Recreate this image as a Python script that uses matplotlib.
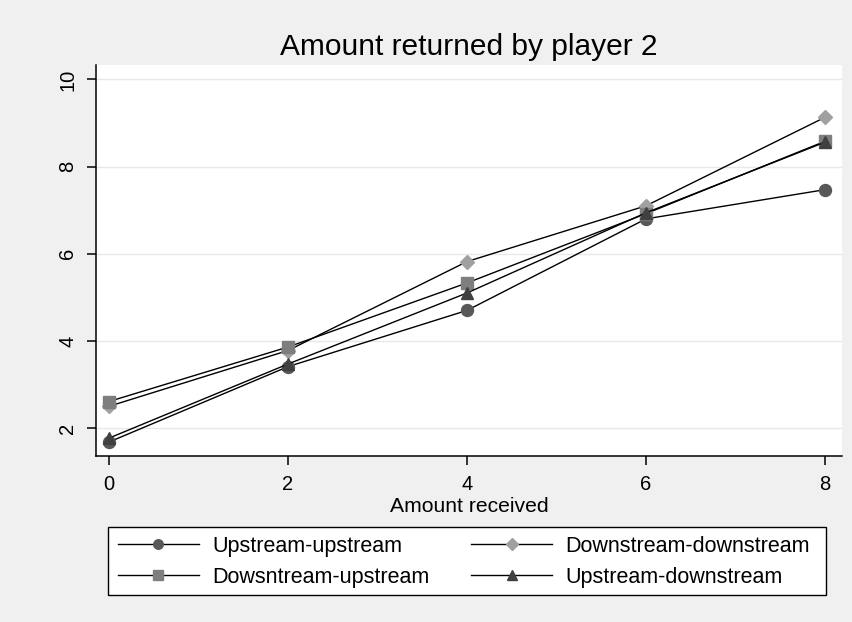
import numpy as np
import matplotlib
matplotlib.use('Agg')
import matplotlib.pyplot as plt
from matplotlib.patches import Rectangle

plt.rcParams['font.family'] = ['Liberation Sans', 'DejaVu Sans']

# Data
received = [0, 2, 4, 6, 8]
up_up = [1.68, 3.41, 4.70, 6.80, 7.47]
down_down = [2.50, 3.78, 5.82, 7.10, 9.13]
down_up = [2.61, 3.86, 5.33, 6.92, 8.58]
up_down = [1.77, 3.47, 5.10, 6.94, 8.56]

labels = ['Upstream-upstream', 'Downstream-downstream',
          'Dowsntream-upstream', 'Upstream-downstream']

W, H = 853, 622
bg = '#f0f0f0'
fig = plt.figure(figsize=(W/100, H/100), dpi=100, facecolor=bg)
ax = fig.add_axes([96/W, 1-456/H, 746/W, 391/H])
ax.set_facecolor('white')

l1, = ax.plot(received, up_up, color='black', lw=1.0, marker='o', ms=8.6,
              mfc='#585858', mec='#585858', label=labels[0])
l2, = ax.plot(received, down_down, color='black', lw=1.0, marker='D', ms=7.6,
              mfc='#a0a0a0', mec='#a0a0a0', label=labels[1])
l3, = ax.plot(received, down_up, color='black', lw=1.0, marker='s', ms=8.4,
              mfc='#7e7e7e', mec='#7e7e7e', label=labels[2])
l4, = ax.plot(received, up_down, color='black', lw=1.0, marker='^', ms=9.2,
              mfc='#404040', mec='#404040', label=labels[3])

ax.set_xlim(-0.145, 8.19)
ax.set_ylim(1.36, 10.33)
ax.set_xticks([0, 2, 4, 6, 8])
ax.set_yticks([2, 4, 6, 8, 10])
ax.yaxis.grid(True, color='#e8e8e8', lw=1)
ax.set_axisbelow(True)
for s in ['top', 'right']:
    ax.spines[s].set_visible(False)
ax.spines['left'].set_linewidth(1.1)
ax.spines['bottom'].set_linewidth(1.1)
ax.tick_params(direction='out', length=6.5, width=1.1, labelsize=14.5, pad=7)
plt.setp(ax.get_yticklabels(), rotation=90, va='center')

ax.set_title('Amount returned by player 2', fontsize=21.5, pad=7)
ax.set_xlabel('Amount received', fontsize=15.2, labelpad=2)

# legend box (Stata style: white box with black border)
fig.patches.append(Rectangle((108/W, 1-595/H), 718.5/W, 68.3/H,
                             transform=fig.transFigure, facecolor='white',
                             edgecolor='black', lw=1.0, zorder=0))

handles = [l1, l3, l2, l4]
leg = fig.legend(handles, [h.get_label() for h in handles], ncol=2,
                 loc='center left', bbox_to_anchor=(117.7/W, 1-561.7/H),
                 fontsize=15.5, frameon=False, markerscale=0.8,
                 handlelength=3.76, handletextpad=0.62, columnspacing=1.95,
                 borderpad=0, borderaxespad=0, labelspacing=0.45)

plt.savefig('out.png', dpi=100, facecolor=bg)
